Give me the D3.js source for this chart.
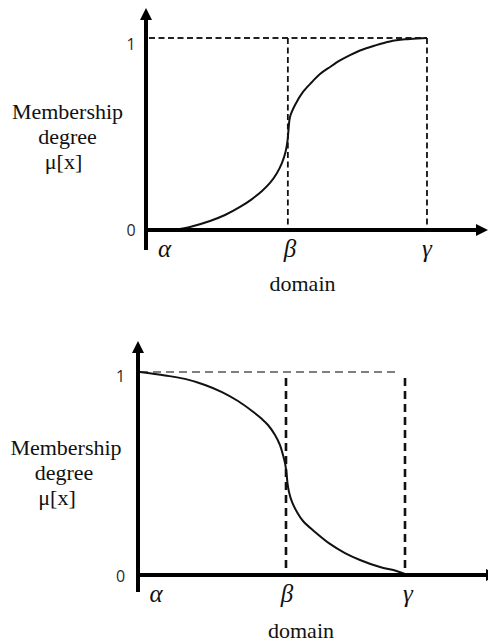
<!DOCTYPE html>
<html>
<head>
<meta charset="utf-8">
<script src="https://cdn.jsdelivr.net/npm/d3@7"></script>
<style>
  html, body { margin: 0; padding: 0; background: #fff; }
  svg { display: block; }
</style>
</head>
<body>
<svg id="chart" width="488" height="643"></svg>
<script>
// Breakpoints on the domain axis
const breakLabels = ["α", "β", "γ"];
const risingBreaks = [7.92, 41.6, 82.4];
const fallingBreaks = [0.59, 43.4, 78.3];

// Membership degree ticks
const degreeTicks = [0, 1];
const degreeTickLabels = ["0", "1"];

const yTitleLines = ["Membership", "degree", "μ[x]"];
const xTitle = "domain";

// Rising S-shaped membership curve
const risingX  = [7.92, 12.9, 18.77, 23.17, 27.57, 31.09, 34.02, 36.36, 38.42, 39.88, 40.91, 41.5, 41.79, 42.23, 43.7, 46.04, 48.68, 51.03, 53.96, 56.89, 59.82, 62.76, 67.16, 71.55, 75.95, 79.77, 82.4];
const risingMu = [0, 0.016, 0.047, 0.078, 0.12, 0.161, 0.203, 0.245, 0.297, 0.349, 0.406, 0.464, 0.521, 0.589, 0.651, 0.719, 0.771, 0.8125, 0.849, 0.883, 0.911, 0.935, 0.961, 0.982, 0.993, 0.998, 1];

// Falling Z-shaped membership curve
const fallingX  = [0.59, 7.92, 13.78, 19.65, 24.63, 29.33, 33.43, 36.36, 38.12, 40.18, 41.64, 42.52, 43.11, 43.55, 43.84, 44.28, 45.16, 46.63, 48.39, 51.91, 56.3, 60.7, 65.1, 70.97, 75.37, 78.3];
const fallingMu = [1, 0.983, 0.966, 0.936, 0.901, 0.857, 0.808, 0.768, 0.739, 0.69, 0.64, 0.591, 0.552, 0.502, 0.453, 0.409, 0.36, 0.31, 0.266, 0.212, 0.153, 0.108, 0.074, 0.039, 0.022, 0.005];

const svg = d3.select("#chart");
const serifFont = "Liberation Serif, Times New Roman, serif";
const sansFont = "Open Sans, Noto Sans, sans-serif";

const panels = [
  {
    xs: risingX, mus: risingMu, breaks: risingBreaks,
    xRange: [146, 487], yRange: [230, 38],
    yAxisBottom: 250, yArrowTip: 8, xArrowTip: 488,
    hDash: { from: 149, toOffset: 0 }, vDashTopOffset: 0,
    dash: { h: "6,3.5", v: "6,3.5", hColor: "#222", hWidth: 1.8, vWidth: 1.8 },
    tickDx: -15, tickDy: [6, 12],
    greekBase: 257, greekDx: [-8.5, 2, 0],
    titleX: 302.5, titleBase: 291,
    yTitle: { cx: [67.5, 67.5, 63.5], base: [119, 144, 169] }
  },
  {
    xs: fallingX, mus: fallingMu, breaks: fallingBreaks,
    xRange: [138, 479], yRange: [575, 372],
    yAxisBottom: 592, yArrowTip: 341, xArrowTip: 498,
    hDash: { from: 140, toOffset: -6 }, vDashTopOffset: 6,
    dash: { h: "8,5", v: "8,5", hColor: "#555", hWidth: 1.5, vWidth: 2.6 },
    tickDx: -17.5, tickDy: [7, 10],
    greekBase: 602, greekDx: [16, 1, 3],
    titleX: 301, titleBase: 638,
    yTitle: { cx: [66, 64, 57], base: [455, 480, 505] }
  }
];

panels.forEach(p => {
  const x = d3.scaleLinear().domain([0, 100]).range(p.xRange);
  const y = d3.scaleLinear().domain([0, 1]).range(p.yRange);
  const g = svg.append("g");
  const x0 = x(0), y0 = y(0), y1 = y(1);

  // dashed guide lines at μ = 1, β and γ
  const bx = p.breaks.map(x);
  g.append("line")
    .attr("x1", p.hDash.from).attr("x2", bx[2] + p.hDash.toOffset)
    .attr("y1", y1).attr("y2", y1)
    .attr("stroke", p.dash.hColor).attr("stroke-width", p.dash.hWidth)
    .attr("stroke-dasharray", p.dash.h);
  [bx[1], bx[2]].forEach(xx => {
    g.append("line")
      .attr("x1", xx).attr("x2", xx)
      .attr("y1", y1 + p.vDashTopOffset).attr("y2", y0)
      .attr("stroke", "#111").attr("stroke-width", p.dash.vWidth)
      .attr("stroke-dasharray", p.dash.v);
  });

  // membership curve
  const pts = p.xs.map((v, i) => ({ x: v, mu: p.mus[i] }));
  g.append("path")
    .datum(pts)
    .attr("fill", "none")
    .attr("stroke", "#111")
    .attr("stroke-width", 2)
    .attr("stroke-linejoin", "round")
    .attr("d", d3.line().x(d => x(d.x)).y(d => y(d.mu)).curve(d3.curveCatmullRom.alpha(0.5)));

  // axes with arrowheads
  const ah = 12, aw = 6;
  g.append("line")
    .attr("x1", x0).attr("x2", x0)
    .attr("y1", p.yAxisBottom).attr("y2", p.yArrowTip + ah - 1)
    .attr("stroke", "#000").attr("stroke-width", 4);
  g.append("path")
    .attr("d", `M${x0},${p.yArrowTip} L${x0 + aw},${p.yArrowTip + ah} L${x0 - aw},${p.yArrowTip + ah} Z`)
    .attr("fill", "#000");
  g.append("line")
    .attr("x1", x0 - 2).attr("x2", p.xArrowTip - ah + 1)
    .attr("y1", y0).attr("y2", y0)
    .attr("stroke", "#000").attr("stroke-width", 4);
  g.append("path")
    .attr("d", `M${p.xArrowTip},${y0} L${p.xArrowTip - ah},${y0 - aw} L${p.xArrowTip - ah},${y0 + aw} Z`)
    .attr("fill", "#000");

  // degree tick labels
  degreeTicks.forEach((t, i) => {
    g.append("text")
      .attr("x", x0 + p.tickDx).attr("y", y(t) + p.tickDy[i])
      .attr("text-anchor", "middle")
      .style("font-family", sansFont)
      .style("font-size", "16px")
      .attr("fill", "#2a2a2a")
      .text(degreeTickLabels[i]);
  });

  // breakpoint labels
  breakLabels.forEach((lab, i) => {
    g.append("text")
      .attr("x", bx[i] + p.greekDx[i]).attr("y", p.greekBase)
      .attr("text-anchor", "middle")
      .style("font-family", serifFont)
      .style("font-style", "italic").style("font-size", "25px")
      .attr("fill", "#111")
      .text(lab);
  });

  // axis titles
  g.append("text")
    .attr("x", p.titleX).attr("y", p.titleBase)
    .attr("text-anchor", "middle")
    .style("font-family", serifFont)
    .style("font-size", "22px").attr("fill", "#111")
    .text(xTitle);
  yTitleLines.forEach((line, i) => {
    g.append("text")
      .attr("x", p.yTitle.cx[i]).attr("y", p.yTitle.base[i])
      .attr("text-anchor", "middle")
      .style("font-family", serifFont)
      .style("font-size", "22px").attr("fill", "#111")
      .text(line);
  });
});
</script>
</body>
</html>
